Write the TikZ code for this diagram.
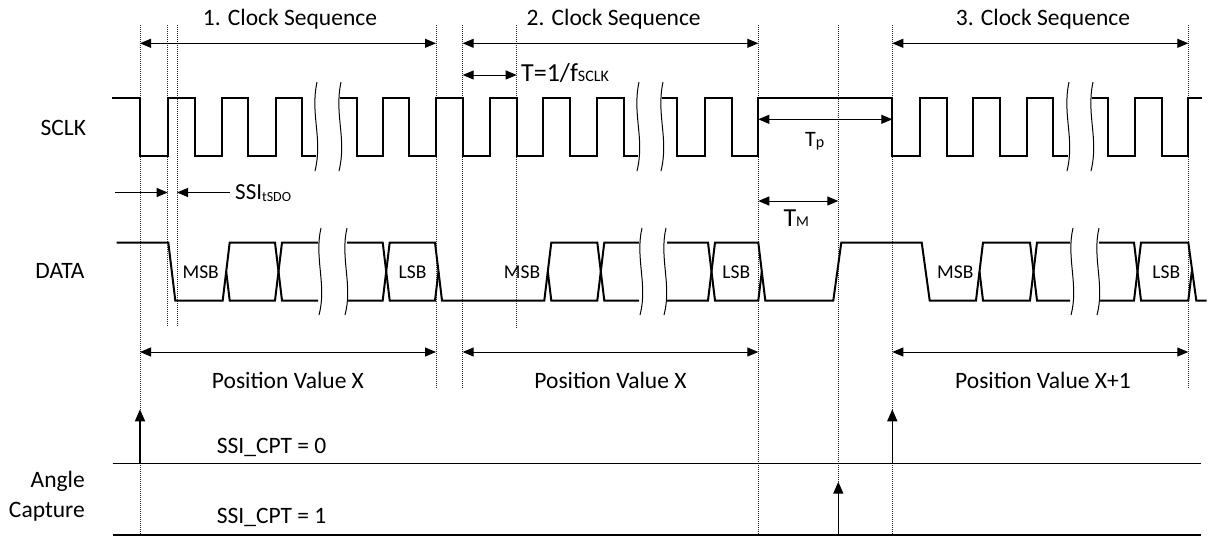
\documentclass[tikz,border=0pt]{standalone}
\usepackage{fontspec}
\setmainfont{Carlito}
\usetikzlibrary{arrows.meta}
\begin{document}
\begin{tikzpicture}[x=1pt,y=-1pt,
  wave/.style={line width=2pt, line join=miter},
  brk/.style={line width=1pt},
  guide/.style={line width=0.8pt, dash pattern=on 1pt off 1pt, black!85},
  dim/.style={line width=1pt, {Triangle[length=11pt,width=9pt]}-{Triangle[length=11pt,width=9pt]}},
  rarr/.style={line width=1pt, -{Triangle[length=11pt,width=9pt]}},
  varr/.style={line width=1.5pt, -{Triangle[length=12pt,width=10pt]}},
  hline/.style={line width=1.2pt},
  lbl/.style={font=\fontsize{23.5}{27}\selectfont, inner sep=0pt, anchor=base},
  bit/.style={font=\fontsize{19.5}{23}\selectfont, inner sep=0pt, anchor=base},
]
\useasboundingbox (0,0) rectangle (1208,536);

% ---------- guide lines ----------
\foreach \x/\b in {140/535, 167.7/327, 177/327, 436/388, 462.7/388, 516.7/328, 758.3/535, 838.3/535, 892.3/535, 1188.3/388}
  \draw[guide] (\x,25) -- (\x,\b);

% ---------- headings ----------
\node[lbl] (h1) at (290,25) {1. Clock Sequence};
\node[lbl] (h2) at (613.7,25) {2. Clock Sequence};
\node[lbl] (h3) at (1043,25) {3. Clock Sequence};

\coordinate (c1a) at (140,43.3);  \coordinate (c1b) at (436,43.3);
\coordinate (c2a) at (462.7,43.3); \coordinate (c2b) at (758.3,43.3);
\coordinate (c3a) at (892.3,43.3); \coordinate (c3b) at (1188.3,43.3);
\draw[dim] (c1a) -- (c1b);
\draw[dim] (c2a) -- (c2b);
\draw[dim] (c3a) -- (c3b);

% T = 1/f
\coordinate (ta) at (462.7,75); \coordinate (tb) at (516.7,75);
\draw[dim] (ta) -- (tb);
\node[inner sep=0pt, anchor=base west, font=\fontsize{26}{29}\selectfont] (tlab) at (521,81) {T=1/f\raisebox{0pt}{\fontsize{16}{16}\selectfont SCLK}};

% ---------- labels ----------
\node[lbl] (sclk) at (63.3,135.4) {SCLK};
\node[lbl] (data) at (60,278.8) {DATA};
\node[lbl, anchor=base east] (ang1) at (85,487) {Angle};
\node[lbl, anchor=base east] (ang2) at (85,517) {Capture};

% ---------- SCLK ----------
\def\H{98.3} \def\L{155.5}
\draw[wave] (112,\H) -- (140,\H) -- (140,\L) -- (167.7,\L) -- (167.7,\H) -- (195,\H) -- (195,\L) -- (221.7,\L) -- (221.7,\H) -- (248.3,\H) -- (248.3,\L) -- (275.7,\L) -- (275.7,\H) -- (301.7,\H) -- (301.7,\L) -- (316,\L);
\draw[wave] (340,\H) -- (356.7,\H) -- (356.7,\L) -- (382.7,\L) -- (382.7,\H) -- (409.3,\H) -- (409.3,\L) -- (436,\L) -- (436,\H) -- (462.7,\H) -- (462.7,\L) -- (490,\L) -- (490,\H) -- (516.7,\H) -- (516.7,\L) -- (543.3,\L) -- (543.3,\H) -- (570,\H) -- (570,\L) -- (597.3,\L) -- (597.3,\H) -- (624,\H) -- (624,\L) -- (638,\L);
\draw[wave] (662,\H) -- (677.3,\H) -- (677.3,\L) -- (705,\L) -- (705,\H) -- (731.7,\H) -- (731.7,\L) -- (758.3,\L) -- (758.3,\H) -- (892.3,\H) -- (892.3,\L) -- (920,\L) -- (920,\H) -- (946.7,\H) -- (946.7,\L) -- (973.3,\L) -- (973.3,\H) -- (1000,\H) -- (1000,\L) -- (1027.3,\L) -- (1027.3,\H) -- (1053.3,\H) -- (1053.3,\L) -- (1068,\L);
\draw[wave] (1092,\H) -- (1107.7,\H) -- (1107.7,\L) -- (1135,\L) -- (1135,\H) -- (1161.7,\H) -- (1161.7,\L) -- (1188.3,\L) -- (1188.3,\H) -- (1201.7,\H);
\foreach \x in {316,340,638,662,1068,1092}
  \draw[brk] (\x+1,82) .. controls (\x-6,115) and (\x+7,138) .. (\x-1,171);

% ---------- Tp ----------
\coordinate (pa) at (758.3,119.3); \coordinate (pb) at (892.3,119.3);
\draw[dim] (pa) -- (pb);
\node[inner sep=0pt, anchor=base west, font=\fontsize{22}{25}\selectfont] (tp) at (805,146.7) {T\raisebox{-1pt}{\fontsize{16}{16}\selectfont p}};

% ---------- SSI tSDO ----------
\coordinate (sa) at (115,192.5); \coordinate (sb) at (167.7,192.5);
\coordinate (sc) at (230,192.5); \coordinate (sd) at (177,192.5);
\draw[rarr] (sa) -- (sb);
\draw[rarr] (sc) -- (sd);
\node[inner sep=0pt, anchor=base west, font=\fontsize{23}{26}\selectfont] (ssi) at (235,199.3) {SSI\raisebox{-2pt}{\fontsize{14}{14}\selectfont tSDO}};

% ---------- TM ----------
\coordinate (ma) at (758.3,201); \coordinate (mb) at (838.3,201);
\draw[dim] (ma) -- (mb);
\node[inner sep=0pt, anchor=base west, font=\fontsize{26}{28}\selectfont] (tm) at (783.3,226.7) {T\fontsize{15}{15}\selectfont M};

% ---------- DATA ----------
\def\DH{242.5} \def\DL{300.5} \def\DM{271.5}
\draw[wave] (116.7,\DH) -- (168.3,\DH) -- (175.3,\DL) -- (222.7,\DL) -- (229.7,\DH) -- (275,\DH) -- (282,\DL) -- (318,\DL);
\draw[wave] (226.2,\DM) -- (229.7,\DL) -- (275,\DL) -- (282,\DH) -- (318,\DH);
\draw[wave] (347,\DH) -- (382.7,\DH) -- (389.7,\DL) -- (435,\DL) -- (438.5,\DM);
\draw[wave] (347,\DL) -- (382.7,\DL) -- (389.7,\DH) -- (435,\DH) -- (442,\DL) -- (544.3,\DL) -- (551.3,\DH) -- (597.3,\DH) -- (604.3,\DL) -- (639,\DL);
\draw[wave] (547.8,\DM) -- (551.3,\DL) -- (597.3,\DL) -- (604.3,\DH) -- (639,\DH);
\draw[wave] (667,\DH) -- (708,\DH) -- (715,\DL) -- (758.3,\DL) -- (761.8,\DM);
\draw[wave] (667,\DL) -- (708,\DL) -- (715,\DH) -- (758.3,\DH) -- (765.3,\DL) -- (833.3,\DL) -- (841.3,\DH) -- (921.7,\DH) -- (929.7,\DL) -- (976,\DL) -- (983,\DH) -- (1030,\DH) -- (1037,\DL) -- (1070,\DL);
\draw[wave] (979.5,\DM) -- (983,\DL) -- (1030,\DL) -- (1037,\DH) -- (1070,\DH);
\draw[wave] (1099,\DH) -- (1134,\DH) -- (1141,\DL) -- (1188.3,\DL) -- (1191.8,\DM);
\draw[wave] (1099,\DL) -- (1134,\DL) -- (1141,\DH) -- (1188.3,\DH) -- (1196.3,\DL) -- (1206.7,\DL);
\foreach \x in {320,346,641,665,1072,1098}
  \draw[brk] (\x+1,228) .. controls (\x-6,258) and (\x+7,285) .. (\x-1,315);

\node[bit] (msb1) at (200.7,278.3) {MSB};
\node[bit] (lsb1) at (412.5,278.3) {LSB};
\node[bit] (msb2) at (522,278.3) {MSB};
\node[bit] (lsb2) at (736.3,278.3) {LSB};
\node[bit] (msb3) at (955.3,278.3) {MSB};
\node[bit] (lsb3) at (1166.3,278.3) {LSB};

% ---------- Position values ----------
\coordinate (v1a) at (140,352); \coordinate (v1b) at (436,352);
\coordinate (v2a) at (462.7,352); \coordinate (v2b) at (758.3,352);
\coordinate (v3a) at (892.3,352); \coordinate (v3b) at (1188.3,352);
\draw[dim] (v1a) -- (v1b);
\draw[dim] (v2a) -- (v2b);
\draw[dim] (v3a) -- (v3b);
\node[lbl] (pv1) at (288,388) {Position Value X};
\node[lbl] (pv2) at (610.5,388) {Position Value X};
\node[lbl] (pv3) at (1043,388) {Position Value X+1};

% ---------- Angle capture ----------
\coordinate (l0a) at (112.7,463.3); \coordinate (l0b) at (1201,463.3);
\coordinate (l1a) at (112.7,535); \coordinate (l1b) at (1201,535);
\draw[hline] (l0a) -- (l0b);
\draw[hline] (l1a) -- (l1b);
\node[lbl, anchor=base west] (cpt0) at (216.7,453.5) {SSI\_CPT = 0};
\node[lbl, anchor=base west] (cpt1) at (216.7,523.5) {SSI\_CPT = 1};

\coordinate (a1s) at (140,463.3); \coordinate (a1e) at (140,409.3);
\coordinate (a2s) at (892.3,463.3); \coordinate (a2e) at (892.3,409.3);
\coordinate (a3s) at (838.3,535); \coordinate (a3e) at (838.3,481.7);
\draw[varr] (a1s) -- (a1e);
\draw[varr] (a2s) -- (a2e);
\draw[varr] (a3s) -- (a3e);
\end{tikzpicture}
\end{document}
